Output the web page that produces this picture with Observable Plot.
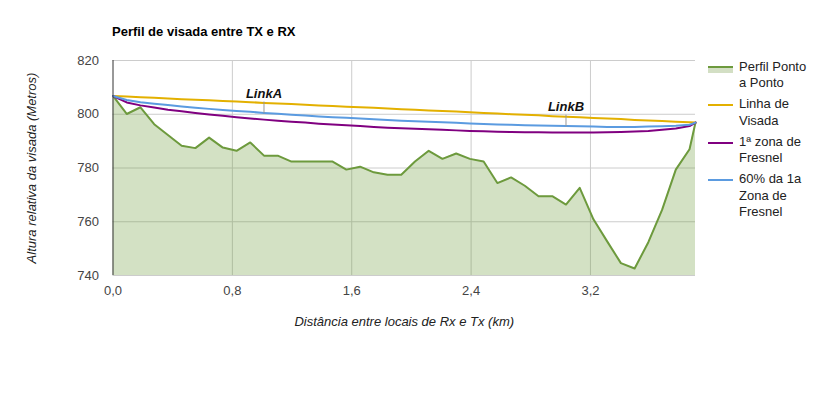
<!DOCTYPE html>
<html>
<head>
<meta charset="utf-8">
<script src="https://cdn.jsdelivr.net/npm/d3@7"></script>
<script src="https://cdn.jsdelivr.net/npm/@observablehq/plot@0.6"></script>
<style>
  body { margin: 0; background: #fff; font-family: Arial, "Liberation Sans", sans-serif; }
  #wrap { position: relative; width: 825px; height: 398px; overflow: hidden; }
  #wrap svg { position: absolute; left: 0; top: 0; }
  #title { position: absolute; left: 112px; top: 24px; font-size: 13px; font-weight: bold; color: #000; line-height: 15px; white-space: nowrap; }
  #legend { position: absolute; left: 708px; top: 58.5px; font-size: 13px; color: #222; }
  .item { position: relative; padding-left: 31px; line-height: 16.5px; margin-bottom: 4.5px; white-space: nowrap; }
  .swatch { position: absolute; left: 0; top: 8px; width: 25px; height: 2px; }
  .swatch.area { height: 5px; border-top: 2px solid #6d9a3d; background: #d3dfc4; top: 7px; }
  g[aria-label="x-axis label"] text, g[aria-label="y-axis label"] text { font-style: italic; fill: #222; }
</style>
</head>
<body>
<div id="wrap">
  <div id="title">Perfil de visada entre TX e RX</div>
  <div id="legend"></div>
</div>
<script>
// Distância (km)
const distancias = [0, 0.092, 0.184, 0.276, 0.368, 0.46, 0.552, 0.644, 0.736, 0.828, 0.92, 1.012, 1.104, 1.196, 1.288, 1.38, 1.472, 1.564, 1.656, 1.748, 1.84, 1.932, 2.024, 2.116, 2.208, 2.3, 2.392, 2.484, 2.576, 2.668, 2.76, 2.852, 2.944, 3.036, 3.128, 3.22, 3.312, 3.404, 3.496, 3.588, 3.68, 3.772, 3.864, 3.904];
// Perfil Ponto a Ponto (m)
const perfil = [806.8, 800.1, 802.6, 796.3, 792.3, 788.3, 787.4, 791.3, 787.6, 786.4, 789.5, 784.6, 784.6, 782.4, 782.4, 782.4, 782.4, 779.4, 780.5, 778.4, 777.5, 777.5, 782.4, 786.4, 783.4, 785.4, 783.4, 782.4, 774.4, 776.5, 773.4, 769.5, 769.5, 766.4, 772.6, 760.9, 752.7, 744.6, 742.6, 752.4, 764.4, 779.4, 787.0, 796.9];
// Linha de Visada (m)
const visada = [806.8, 806.6, 806.3, 806.1, 805.9, 805.6, 805.4, 805.2, 804.9, 804.7, 804.5, 804.2, 804.0, 803.8, 803.5, 803.3, 803.1, 802.8, 802.6, 802.4, 802.1, 801.9, 801.7, 801.4, 801.2, 801.0, 800.7, 800.5, 800.3, 800.0, 799.8, 799.6, 799.3, 799.1, 798.9, 798.6, 798.4, 798.2, 797.9, 797.7, 797.5, 797.2, 797.0, 796.9];
// 1ª zona de Fresnel (m)
const fresnel = [806.8, 804.4, 803.3, 802.5, 801.7, 801.1, 800.5, 799.9, 799.4, 798.9, 798.4, 798.0, 797.6, 797.2, 796.9, 796.5, 796.2, 795.9, 795.6, 795.3, 795.0, 794.8, 794.6, 794.4, 794.2, 794.0, 793.8, 793.7, 793.5, 793.4, 793.3, 793.3, 793.2, 793.2, 793.2, 793.2, 793.3, 793.4, 793.6, 793.8, 794.2, 794.7, 795.6, 796.9];
// 60% da 1a Zona de Fresnel (m)
const fresnel60 = [806.8, 805.3, 804.5, 803.9, 803.4, 802.9, 802.4, 802.0, 801.6, 801.2, 800.9, 800.5, 800.2, 799.8, 799.5, 799.2, 798.9, 798.7, 798.4, 798.1, 797.9, 797.6, 797.4, 797.2, 797.0, 796.8, 796.6, 796.4, 796.2, 796.1, 795.9, 795.8, 795.7, 795.6, 795.5, 795.4, 795.3, 795.3, 795.3, 795.4, 795.5, 795.7, 796.1, 796.9];
// Anotações (rótulo e índice do ponto)
const anotacoes = ["LinkA", "LinkB"];
const anotacaoIndice = [11, 33];
// Ticks
const xTicks = [0, 0.8, 1.6, 2.4, 3.2];
const yTicks = [740, 760, 780, 800, 820];
// Legenda
const seriesNomes = ["Perfil Ponto<br>a Ponto", "Linha de<br>Visada", "1ª zona de<br>Fresnel", "60% da 1a<br>Zona de<br>Fresnel"];
const seriesCores = ["#6d9a3d", "#e3b000", "#800080", "#5b9be0"];

const data = distancias.map((d, i) => ({d, perfil: perfil[i], visada: visada[i], fresnel: fresnel[i], fresnel60: fresnel60[i]}));
const annot = anotacoes.map((t, k) => ({t, d: distancias[anotacaoIndice[k]], v: fresnel60[anotacaoIndice[k]]}));

const stem = { draw(context, l) { context.moveTo(0, 0); context.lineTo(0, -l); } };

const chart = Plot.plot({
  width: 825,
  height: 398,
  marginTop: 60,
  marginBottom: 123,
  marginLeft: 112.5,
  marginRight: 130,
  style: { fontFamily: "Arial, 'Liberation Sans', sans-serif", fontSize: "13px", background: "transparent", overflow: "visible" },
  x: { domain: [0, 3.904] },
  y: { domain: [740, 820] },
  marks: [
    Plot.gridY(yTicks, { stroke: "#cccccc", strokeOpacity: 1 }),
    Plot.gridX(xTicks.slice(1), { stroke: "#cccccc", strokeOpacity: 1 }),
    Plot.areaY(data, { x: "d", y1: 740, y2: "perfil", fill: seriesCores[0], fillOpacity: 0.3 }),
    Plot.line(data, { x: "d", y: "perfil", stroke: seriesCores[0], strokeWidth: 2 }),
    Plot.line(data, { x: "d", y: "visada", stroke: seriesCores[1], strokeWidth: 2 }),
    Plot.line(data, { x: "d", y: "fresnel", stroke: seriesCores[2], strokeWidth: 2 }),
    Plot.line(data, { x: "d", y: "fresnel60", stroke: seriesCores[3], strokeWidth: 2 }),
    Plot.ruleX([0], { stroke: "#333333", strokeWidth: 1 }),
    Plot.vector(annot, { x: "d", y: "v", length: 11, rotate: 0, anchor: "start", shape: stem, stroke: "#999999", strokeWidth: 1 }),
    Plot.text(annot, { x: "d", y: "v", text: "t", dy: -15, lineAnchor: "bottom", fontWeight: "bold", fontStyle: "italic", fontSize: 13, fill: "#111" }),
    Plot.axisY({ ticks: yTicks, tickSize: 0, tickPadding: 14, fill: "#444", label: "Altura relativa da visada (Metros)", labelAnchor: "center", labelOffset: 86, labelArrow: "none" }),
    Plot.axisX({ ticks: xTicks, tickSize: 0, tickPadding: 10, fill: "#444", tickFormat: d => d.toFixed(1).replace(".", ","), label: "Distância entre locais de Rx e Tx (km)", labelAnchor: "center", labelOffset: 50, labelArrow: "none" })
  ]
});
document.getElementById("wrap").prepend(chart);

const legend = document.getElementById("legend");
seriesNomes.forEach((n, i) => {
  const item = document.createElement("div");
  item.className = "item";
  const sw = document.createElement("div");
  sw.className = "swatch" + (i === 0 ? " area" : "");
  if (i !== 0) sw.style.background = seriesCores[i];
  item.appendChild(sw);
  const label = document.createElement("span");
  label.innerHTML = n;
  item.appendChild(label);
  legend.appendChild(item);
});
</script>
</body>
</html>
